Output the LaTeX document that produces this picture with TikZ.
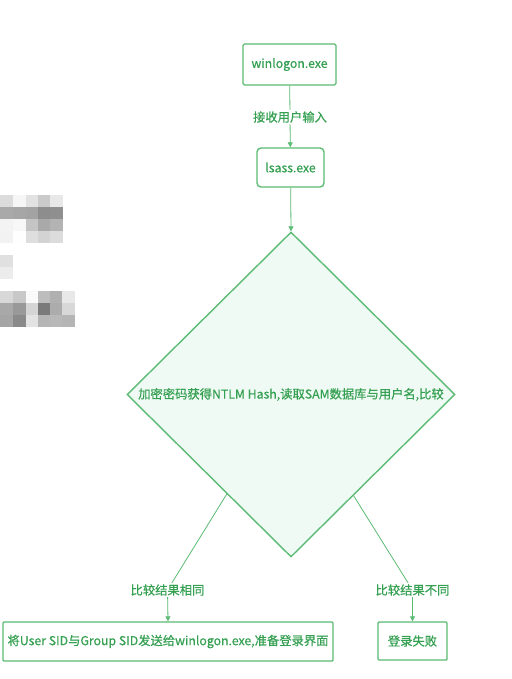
\documentclass[tikz,border=0pt]{standalone}
\usepackage{fontspec}
\setmainfont{Noto Sans CJK SC}[FakeBold=0.5]
\usetikzlibrary{arrows.meta,shapes.geometric,calc}
\definecolor{lineg}{HTML}{5CBB74}
\definecolor{textg}{HTML}{35A052}
\definecolor{dfill}{HTML}{F0FAF5}
\tikzset{
  txt/.style={font=\fontsize{12.3}{14}\selectfont,text=textg},
  box/.style={txt,draw=lineg,line width=1.4pt,fill=white,inner sep=0pt},
  lbl/.style={txt,fill=white,inner sep=1.5pt},
  conn/.style={draw=lineg,line width=0.8pt,-{Triangle[length=5pt,width=5pt]}},
}
\begin{document}
\begin{tikzpicture}[x=1pt,y=-1pt]
\useasboundingbox (0,0) rectangle (511,679);
\fill[white] (0,0) rectangle (511,679);
% mosaic blocks (censored area)
\foreach \x/\y/\c in {0/195/DCDCDC,13/195/F6F6F6,26/195/E2E2E2,38/195/CACACA,50/195/E8E8E8,
  0/207/A9A9A9,13/207/A6A6A6,26/207/A3A3A3,38/207/8D8D8D,50/207/8F8F8F,
  0/219/F3F3F3,13/219/F7F7F7,26/219/C4C4C4,38/219/A9A9A9,50/219/B3B3B3,
  0/231/F2F2F2,13/231/FEFEFE,26/231/DEDEDE,38/231/D3D3D3,50/231/DCDCDC,
  0/255/E0E0E0,0/267/ECECEC,
  0/291/D8D8D8,13/291/C8C8C8,26/291/FAFAFA,38/291/BDBDBD,50/291/B0B0B0,62/291/E8E8E8,
  0/303/A8A8A8,13/303/999999,26/303/D5D5D5,38/303/7A7A7A,50/303/ACACAC,62/303/D8D8D8,
  0/315/A5A5A5,13/315/8A8A8A,26/315/E3E3E3,38/315/B5B5B5,50/315/B8B8B8,62/315/B5B5B5}
  {\definecolor{mc}{HTML}{\c}\fill[mc] (\x,\y) rectangle ++(12.6,12.2);}
% nodes
\node[box,rounded corners=1.5pt,minimum width=93pt,minimum height=41pt] (win) at (289.5,64.5) {winlogon.exe};
\node[box,rounded corners=4pt,minimum width=67pt,minimum height=39pt] (lsass) at (290.5,167.5) {lsass.exe};
\node[diamond,draw=lineg,line width=1.4pt,fill=dfill,inner sep=0pt,minimum width=328pt,minimum height=325pt] (d) at (291,394.5) {};
\node[txt,inner sep=0pt] (dtext) at (d.center) {加密密码获得NTLM Hash,读取SAM数据库与用户名,比较};
\node[box,rounded corners=1pt,minimum width=330pt,minimum height=39pt] (ok) at (168,641.5) {将User SID与Group SID发送给winlogon.exe,准备登录界面};
\node[box,rounded corners=1pt,minimum width=69pt,minimum height=38pt] (fail) at (412.5,641) {登录失败};
\coordinate (lbend) at (167.5,590);
\coordinate (rbend) at (412.5,590);
% connectors
\draw[conn] (win) -- (lsass);
\node[lbl] (l1) at (290,117) {接收用户输入};
\draw[conn] (lsass) -- (d.north);
\draw[conn] ($(d.west)!0.61!(d.south)$) -- (lbend) -- (ok.north);
\draw[conn] ($(d.east)!0.62!(d.south)$) -- (rbend) -- (fail.north);
\node[lbl] (l2) at (lbend) {比较结果相同};
\node[lbl] (l3) at (rbend) {比较结果不同};
\end{tikzpicture}
\end{document}
